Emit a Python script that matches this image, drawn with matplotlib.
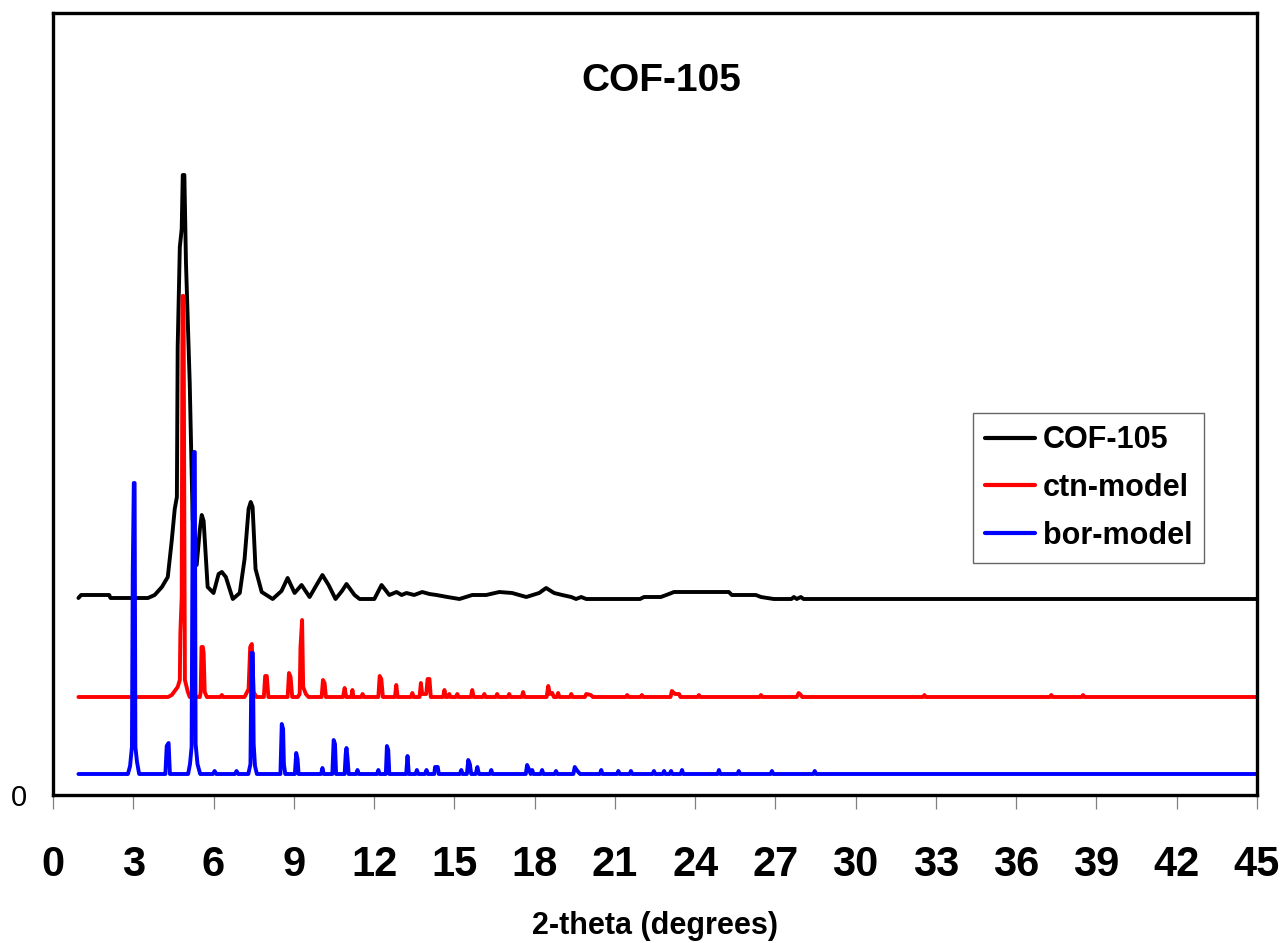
#!/usr/bin/python

# COF-105 powder XRD pattern vs. ctn and bor model patterns (stacked with offsets)

import numpy as np
import matplotlib
matplotlib.use("Agg")
import matplotlib.pyplot as plt

##########################################################
#. Data (2-theta, intensity above own baseline):
##########################################################
cof105_pts = [(0.95, 1), (1.05, 4), (2.1, 4), (2.15, 1), (3.55, 1), (3.8, 4), (4.07, 12),
              (4.29, 22), (4.44, 59), (4.55, 90), (4.63, 102), (4.66, 252), (4.74, 352),
              (4.81, 370), (4.85, 424), (4.91, 424), (4.97, 336), (5.11, 216), (5.22, 80),
              (5.37, 34), (5.49, 70), (5.56, 84), (5.63, 78), (5.78, 12), (6.0, 6),
              (6.19, 25), (6.31, 27), (6.46, 22), (6.72, 0), (6.98, 6), (7.16, 40),
              (7.31, 90), (7.39, 97), (7.46, 92), (7.57, 30), (7.8, 7), (8.21, 0),
              (8.54, 8), (8.77, 21), (9.03, 6), (9.29, 14), (9.59, 2), (9.85, 14),
              (10.07, 24), (10.3, 14), (10.56, 0), (10.8, 8), (10.97, 15), (11.27, 4),
              (11.46, 0), (12.01, 0), (12.28, 14), (12.57, 4), (12.84, 7), (13.03, 4),
              (13.21, 6), (13.5, 4), (13.8, 7), (14.07, 5), (14.33, 4), (14.74, 2),
              (15.19, 0), (15.67, 4), (16.19, 4), (16.68, 7), (17.16, 6), (17.69, 2),
              (18.17, 6), (18.43, 11), (18.73, 6), (19.03, 4), (19.37, 2), (19.55, 0),
              (19.74, 2), (19.93, 0), (21.94, 0), (22.09, 2), (22.72, 2), (23.02, 5),
              (23.21, 7), (25.26, 7), (25.37, 4), (26.27, 4), (26.46, 2), (26.94, 0),
              (27.6, 0), (27.69, 2), (27.8, 0), (27.95, 2), (28.05, 0), (45, 0)]

ctn_pts = [(0.95, 0), (4.3, 0), (4.44, 2), (4.66, 10), (4.74, 17), (4.76, 64), (4.81, 100),
           (4.84, 401), (4.88, 401), (4.93, 17), (5.04, 5), (5.11, 0), (5.49, 0), (5.52, 5),
           (5.55, 50), (5.6, 50), (5.63, 44), (5.67, 5), (5.75, 0), (6.26, 0), (6.31, 2),
           (6.36, 0), (7.16, 0), (7.31, 8), (7.37, 50), (7.43, 53), (7.5, 5), (7.6, 0),
           (7.88, 0), (7.93, 21), (7.99, 21), (8.05, 0), (8.77, 0), (8.82, 24), (8.88, 20),
           (8.94, 0), (9.15, 0), (9.22, 3), (9.25, 50), (9.31, 77), (9.35, 10), (9.45, 3),
           (9.55, 0), (10.04, 0), (10.09, 17), (10.15, 14), (10.2, 0), (10.84, 0),
           (10.9, 9), (10.96, 0), (11.15, 0), (11.19, 7), (11.23, 0), (11.52, 0),
           (11.57, 3), (11.62, 0), (12.16, 0), (12.21, 21), (12.27, 18), (12.33, 0),
           (12.78, 0), (12.83, 12), (12.88, 0), (13.38, 0), (13.43, 4), (13.48, 0),
           (13.7, 0), (13.75, 14), (13.8, 3), (13.95, 3), (14.0, 18), (14.07, 18),
           (14.12, 0), (14.58, 0), (14.63, 7), (14.68, 0), (14.76, 0), (14.81, 3),
           (14.86, 0), (15.06, 0), (15.11, 3), (15.16, 0), (15.62, 0), (15.67, 7),
           (15.72, 0), (16.07, 0), (16.12, 3), (16.17, 0), (16.55, 0), (16.6, 3),
           (16.65, 0), (17.0, 0), (17.05, 3), (17.1, 0), (17.52, 0), (17.57, 5),
           (17.62, 0), (18.45, 0), (18.51, 11), (18.57, 3), (18.66, 4), (18.72, 0),
           (18.83, 0), (18.88, 4), (18.93, 0), (19.32, 0), (19.37, 3), (19.42, 0),
           (19.88, 0), (19.93, 3), (20.1, 2), (20.18, 0), (21.41, 0), (21.46, 2),
           (21.51, 0), (21.96, 0), (22.01, 2), (22.06, 0), (23.08, 0), (23.13, 6),
           (23.25, 3), (23.4, 3), (23.45, 0), (24.09, 0), (24.14, 2), (24.19, 0),
           (26.41, 0), (26.46, 2), (26.51, 0), (27.8, 0), (27.87, 4), (27.95, 2),
           (28.0, 0), (32.52, 0), (32.57, 2), (32.62, 0), (37.26, 0), (37.31, 2),
           (37.36, 0), (38.45, 0), (38.5, 2), (38.55, 0), (45, 0)]

bor_pts = [(0.95, 0), (2.8, 0), (2.88, 8), (2.95, 27), (2.98, 200), (3.02, 291), (3.05, 291),
           (3.08, 27), (3.14, 12), (3.22, 0), (4.2, 0), (4.25, 28), (4.32, 31), (4.37, 0),
           (5.05, 0), (5.12, 10), (5.18, 27), (5.22, 260), (5.27, 322), (5.3, 322),
           (5.33, 30), (5.4, 10), (5.5, 0), (5.98, 0), (6.04, 3), (6.1, 0), (6.8, 0),
           (6.86, 3), (6.92, 0), (7.3, 0), (7.38, 10), (7.42, 121), (7.47, 121), (7.5, 30),
           (7.55, 8), (7.62, 0), (8.5, 0), (8.55, 50), (8.6, 45), (8.63, 10), (8.68, 0),
           (9.04, 0), (9.09, 21), (9.14, 15), (9.18, 0), (10.02, 0), (10.07, 6),
           (10.12, 0), (10.44, 0), (10.49, 34), (10.54, 30), (10.58, 0), (10.9, 0),
           (10.94, 20), (10.97, 26), (11.01, 15), (11.05, 0), (11.33, 0), (11.38, 4),
           (11.43, 0), (12.11, 0), (12.16, 4), (12.21, 0), (12.44, 0), (12.48, 28),
           (12.53, 24), (12.57, 0), (13.2, 0), (13.25, 18), (13.3, 0), (13.55, 0),
           (13.6, 4), (13.65, 0), (13.9, 0), (13.96, 4), (14.01, 0), (14.25, 0),
           (14.28, 7), (14.38, 7), (14.42, 0), (15.21, 0), (15.26, 4), (15.31, 0),
           (15.47, 0), (15.52, 14), (15.58, 10), (15.63, 0), (15.8, 0), (15.86, 7),
           (15.92, 0), (16.33, 0), (16.38, 4), (16.43, 0), (17.67, 0), (17.72, 9),
           (17.8, 4), (17.85, 0), (17.86, 0), (17.91, 4), (17.96, 0), (18.23, 0),
           (18.28, 4), (18.33, 0), (18.75, 0), (18.8, 3), (18.85, 0), (19.45, 0),
           (19.5, 7), (19.6, 3), (19.7, 0), (20.44, 0), (20.49, 4), (20.54, 0),
           (21.08, 0), (21.13, 3), (21.18, 0), (21.55, 0), (21.6, 3), (21.65, 0),
           (22.41, 0), (22.46, 3), (22.51, 0), (22.79, 0), (22.84, 3), (22.89, 0),
           (23.05, 0), (23.1, 3), (23.15, 0), (23.46, 0), (23.51, 4), (23.56, 0),
           (24.84, 0), (24.89, 4), (24.94, 0), (25.58, 0), (25.63, 3), (25.68, 0),
           (26.82, 0), (26.87, 3), (26.92, 0), (28.42, 0), (28.47, 3), (28.52, 0),
           (45, 0)]

# -- vertical offsets of the stacked patterns
offsets = {'COF-105': 196, 'ctn-model': 98, 'bor-model': 21}
colors = {'COF-105': 'black', 'ctn-model': 'red', 'bor-model': 'blue'}
x_ticks = list(range(0, 46, 3))

##########################################################
#. Plot:
##########################################################
plt.rcParams['font.family'] = ['Liberation Sans', 'DejaVu Sans']

fig = plt.figure(figsize=(12.83, 9.43), dpi=100)
ax = fig.add_axes([53 / 1283, 1 - 795 / 943, (1257 - 53) / 1283, (795 - 13) / 943])

for name, pts in [('COF-105', cof105_pts), ('ctn-model', ctn_pts), ('bor-model', bor_pts)]:
    x, y = zip(*pts)
    ax.plot(x, np.array(y) + offsets[name], color=colors[name], lw=2.8,
            solid_joinstyle='round', solid_capstyle='round', label=name)

ax.set_xlim(0, 45)
ax.set_ylim(0, 782)

# -- frame
for s in ax.spines.values():
    s.set_linewidth(2.4)
    s.set_color('black')

ax.set_xticks(x_ticks)
ax.set_xticklabels([str(t) for t in x_ticks], fontsize=30, fontweight='bold')
ax.tick_params(axis='x', direction='out', length=10, width=0.9, color='#808080', pad=26)
ax.set_yticks([0])
ax.set_yticklabels(['0'], fontsize=21)
ax.tick_params(axis='y', length=0, pad=19)

ax.set_xlabel('2-theta (degrees)', fontsize=22, fontweight='bold', labelpad=19)
ax.text(0.505, 0.913, 'COF-105', transform=ax.transAxes, ha='center', va='center',
        fontsize=28, fontweight='bold')

leg = ax.legend(loc='upper left', bbox_to_anchor=(973 / 1283, 1 - 413 / 943),
                bbox_transform=fig.transFigure, fontsize=22, frameon=True, fancybox=False,
                handlelength=1.63, handletextpad=0.25, labelspacing=0.58, borderpad=0.4,
                borderaxespad=0)
leg.get_frame().set_edgecolor('#404040')
leg.get_frame().set_linewidth(1.0)
for t in leg.get_texts():
    t.set_fontweight('bold')
for h in leg.get_lines():
    h.set_linewidth(3)

fig.savefig('out.png', dpi=100)
